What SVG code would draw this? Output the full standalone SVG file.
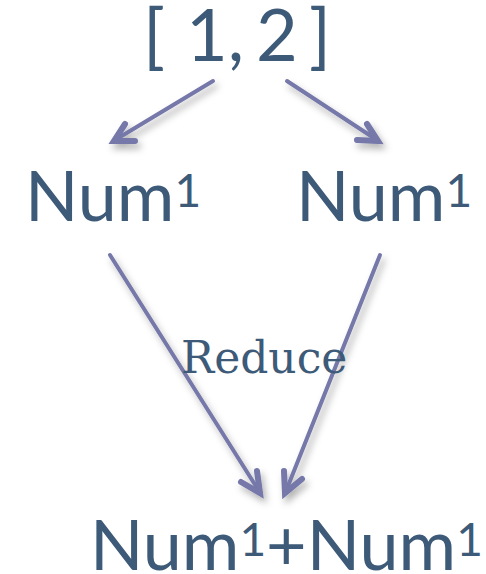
<svg xmlns="http://www.w3.org/2000/svg" width="486" height="574" viewBox="0 0 486 574">
  <style>
    .lbl { font-family: Lato, "Open Sans", sans-serif; fill: #3d5a78; }
    .sup { font-size: 46px; }
    .op  { font-family: "DejaVu Serif", serif; fill: #3d5a78; }
    .shaft { fill: none; stroke: #7478a8; stroke-width: 4; stroke-linecap: round; }
    .head  { fill: none; stroke: #7478a8; stroke-width: 6; stroke-linecap: round; stroke-linejoin: miter; }
  </style>
  <defs>
    <filter id="shadow" x="-30%" y="-30%" width="160%" height="160%">
      <feDropShadow dx="3" dy="5" stdDeviation="3.5" flood-color="#000" flood-opacity="0.3"/>
    </filter>
  </defs>
  <rect width="486" height="574" fill="#fff"/>

  <!-- connectors: shafts plus barbed heads -->
  <g id="connectors" filter="url(#shadow)">
    <path class="shaft" d="M213 81 L115 140"/>
    <path class="head" d="M125 124 L114 141 L135 141"/>
    <path class="shaft" d="M287 81 L377 140"/>
    <path class="head" d="M367 124 L378 141 L357 140"/>
    <path class="shaft" d="M110 255 L259 491"/>
    <path class="head" d="M257 471 L260 493 L241 482"/>
    <path class="shaft" d="M380 255 L286 491"/>
    <path class="head" d="M284 471 L285 493 L302 479"/>
  </g>

  <g id="list">
    <text class="lbl" y="61" font-size="72"><tspan x="143">[</tspan><tspan x="186">1,</tspan><tspan x="256">2</tspan><tspan x="309">]</tspan></text>
  </g>
  <g id="num-left">
    <text class="lbl" x="25" y="221" font-size="70">Num<tspan class="sup" dy="-14">1</tspan></text>
  </g>
  <g id="num-right">
    <text class="lbl" x="296" y="221" font-size="70">Num<tspan class="sup" dy="-14">1</tspan></text>
  </g>
  <g id="reduce">
    <text class="op" x="181" y="373" font-size="44">Reduce</text>
  </g>
  <g id="sum">
    <text class="lbl" x="90" y="570" font-size="70">Num<tspan class="sup" dy="-14">1</tspan><tspan dy="14">+Num</tspan><tspan class="sup" dy="-14">1</tspan></text>
  </g>
</svg>
